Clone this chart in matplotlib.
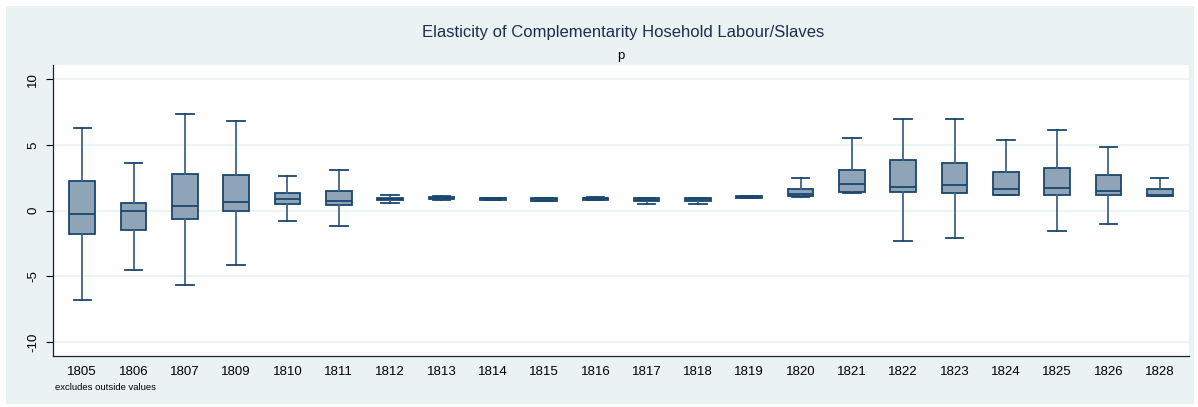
import matplotlib
matplotlib.use("Agg")
import matplotlib.pyplot as plt
from matplotlib.patches import Rectangle

years = ["1805", "1806", "1807", "1809", "1810", "1811", "1812", "1813", "1814", "1815", "1816",
         "1817", "1818", "1819", "1820", "1821", "1822", "1823", "1824", "1825", "1826", "1828"]
whisker_hi = [6.32, 3.63, 7.36, 6.86, 2.67, 3.08, 1.20, 1.12, 1.00, 0.99, 1.02,
              1.00, 1.00, 1.15, 2.47, 5.56, 7.00, 7.00, 5.41, 6.17, 4.88, 2.49]
q3 = [2.26, 0.56, 2.77, 2.74, 1.37, 1.50, 1.00, 1.08, 0.98, 0.97, 1.00,
      0.97, 0.98, 1.10, 1.68, 3.10, 3.86, 3.63, 2.92, 3.23, 2.70, 1.68]
median = [-0.23, 0.00, 0.36, 0.69, 0.87, 0.76, 0.92, 0.97, 0.95, 0.92, 0.93,
          0.85, 0.88, 1.05, 1.29, 2.03, 1.78, 1.93, 1.68, 1.73, 1.48, 1.20]
q1 = [-1.75, -1.47, -0.63, 0.00, 0.49, 0.43, 0.82, 0.88, 0.85, 0.75, 0.85,
      0.72, 0.72, 1.00, 1.14, 1.42, 1.42, 1.32, 1.22, 1.22, 1.22, 1.14]
whisker_lo = [-6.83, -4.49, -5.66, -4.13, -0.78, -1.19, 0.60, 0.85, 0.83, 0.72, 0.83,
              0.48, 0.53, 0.98, 1.07, 1.32, -2.28, -2.08, 1.17, -1.52, -0.99, 1.12]

title = "Elasticity of Complementarity Hosehold Labour/Slaves"
subtitle = "p"
note = "excludes outside values"
yticks = [-10, -5, 0, 5, 10]

FONT = ["Liberation Sans", "DejaVu Sans"]
plt.rcParams["font.family"] = FONT

navy = "#1a476f"
whisk = "#3f6385"
fill = "#90a4b8"
bg = "#eaf2f3"

fig = plt.figure(figsize=(11.98, 4.07), dpi=100, facecolor="white")
fig.patches.append(Rectangle((6 / 1198, 3 / 407), 1188 / 1198, 398 / 407,
                             transform=fig.transFigure, facecolor=bg, edgecolor="none", zorder=-10))

ax = fig.add_axes([53 / 1198, 1 - 356 / 407, 1136 / 1198, 291 / 407])
ax.set_zorder(5)
ax.set_facecolor("white")

stats = []
for i, y in enumerate(years):
    stats.append(dict(med=median[i], q1=q1[i], q3=q3[i],
                      whislo=whisker_lo[i], whishi=whisker_hi[i], fliers=[], label=y))

positions = list(range(len(years)))
ax.bxp(stats, positions=positions, widths=0.5, patch_artist=True, showfliers=False,
       boxprops=dict(facecolor=fill, edgecolor=navy, linewidth=1.3),
       medianprops=dict(color=navy, linewidth=1.3),
       whiskerprops=dict(color=whisk, linewidth=1.3),
       capprops=dict(color=navy, linewidth=1.3),
       capwidths=0.34)

ax.set_xlim(-0.57, len(years) - 0.43)
ax.set_ylim(-11.07, 11.1)
ax.set_yticks(yticks)
ax.set_yticklabels([str(t) for t in yticks], rotation=90, va="center", fontsize=9.5)
ax.tick_params(axis="y", length=5, width=0.8, pad=5, colors="black")
ax.tick_params(axis="x", length=0, pad=7, labelsize=9.5)
ax.set_xticks(positions)
ax.set_xticklabels(years)
ax.grid(axis="y", color=bg, linewidth=1.2)
ax.set_axisbelow(True)
for s in ["top", "right"]:
    ax.spines[s].set_visible(False)
ax.spines["left"].set_color("#222222")
ax.spines["bottom"].set_color("#222222")
ax.spines["left"].set_linewidth(0.9)
ax.spines["bottom"].set_linewidth(0.9)

fig.text(0.52, 1 - 33 / 407, title, ha="center", va="center", fontsize=12, color="#1e2d4f")
fig.text(0.518, 1 - 56 / 407, subtitle, ha="center", va="center", fontsize=9.5, color="black")
fig.text(55 / 1198, 1 - 387 / 407, note, ha="left", va="center", fontsize=6.8, color="black")

fig.savefig("out.png", dpi=100, facecolor="white")
